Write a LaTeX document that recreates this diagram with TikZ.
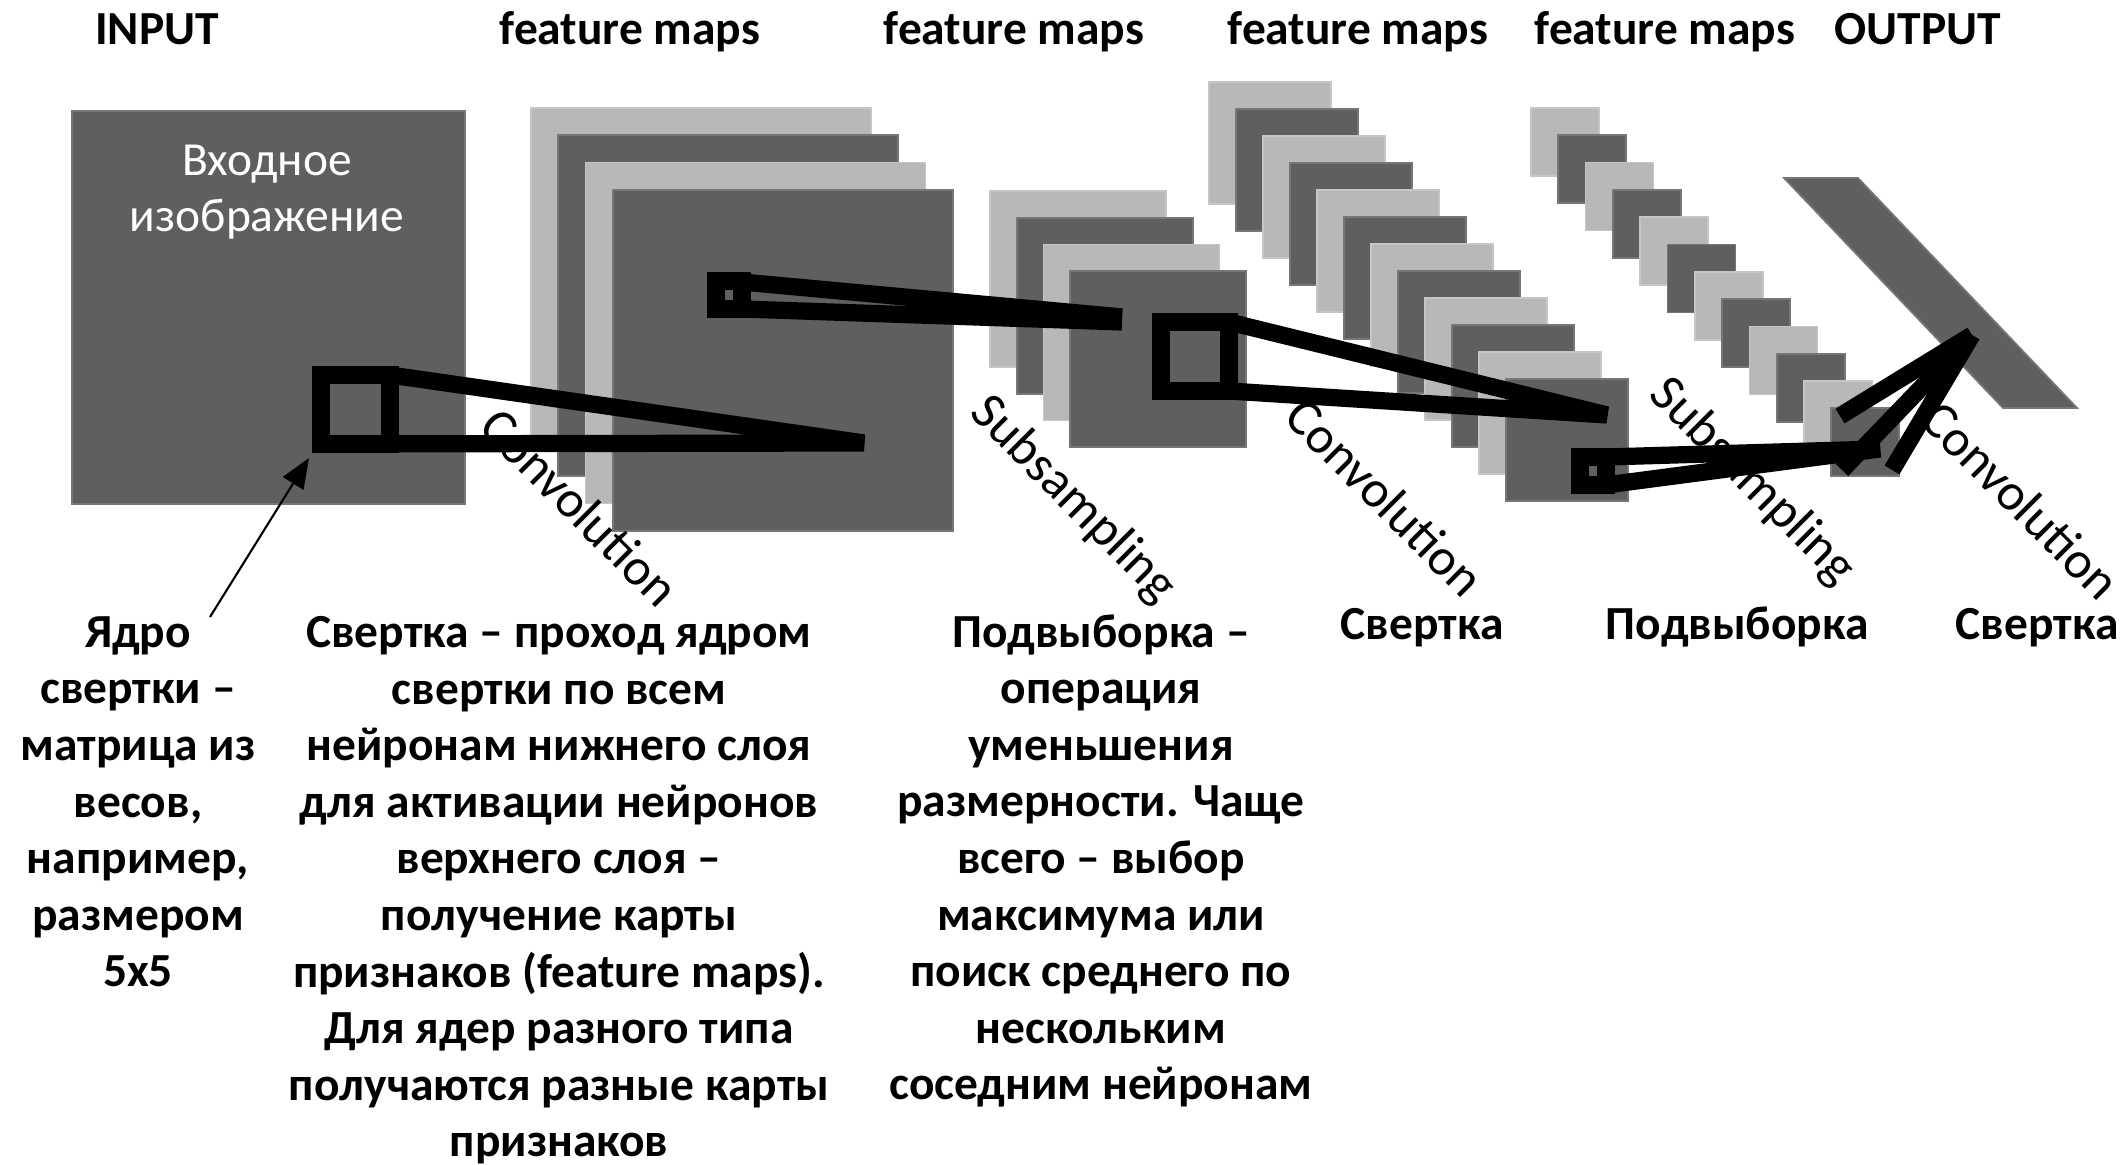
\documentclass[tikz,border=0pt]{standalone}
\usepackage{fontspec}
\setmainfont{Carlito}
\usetikzlibrary{arrows.meta}

\definecolor{dkgray}{RGB}{95,95,95}
\definecolor{ltgray}{RGB}{184,184,184}

\begin{document}
\begin{tikzpicture}[x=0.01cm, y=-0.01cm,
  dark/.style={fill=dkgray, draw=dkgray!85!white, line width=0.5pt},
  light/.style={fill=ltgray, draw=ltgray!80!white, line width=0.5pt},
  kernel/.style={draw=black, line width=4.9pt},
  title/.style={font=\bfseries\fontsize{13.5}{16.1}\selectfont, anchor=base, inner sep=0pt},
  note/.style={font=\bfseries\fontsize{13.5}{16.1}\selectfont, align=center, anchor=base, inner sep=0pt},
  oplabel/.style={font=\fontsize{14.8}{16.1}\selectfont, rotate=-45, inner sep=0pt}]

  \useasboundingbox[fill=white] (0,0) rectangle (2126,1165);

  \node[title] (input) at (157,45) {INPUT};
  \node[title] (maps1) at (630,45) {feature maps};
  \node[title] (maps2) at (1014,45) {feature maps};
  \node[title] (maps3) at (1358,45) {feature maps};
  \node[title] (maps4) at (1665,45) {feature maps};
  \node[title] (output) at (1918,45) {OUTPUT};

  % input image
  \path[dark] (72,111) rectangle (465,504);
  \node[font=\fontsize{13.5}{16.1}\selectfont, text=white, align=center,
    anchor=base, inner sep=0pt] (image) at (267,232) {Входное\\изображение};

  % stacks of feature maps
  \foreach \i in {0,2} {
    \path[light] ({531+27.3*\i},{108+27.3*\i}) rectangle +(340,341);
    \path[dark] ({531+27.3*(\i+1)},{108+27.3*(\i+1)}) rectangle +(340,341);
  }
  \foreach \i in {0,2} {
    \path[light] ({990+26.7*\i},{191+26.7*\i}) rectangle +(176,176);
    \path[dark] ({990+26.7*(\i+1)},{191+26.7*(\i+1)}) rectangle +(176,176);
  }
  \foreach \i in {0,2,...,10} {
    \path[light] ({1209+27*\i},{82+27*\i}) rectangle +(122,122);
    \path[dark] ({1209+27*(\i+1)},{82+27*(\i+1)}) rectangle +(122,122);
  }
  \foreach \i in {0,2,...,10} {
    \path[light] ({1531+27.3*\i},{108+27.3*\i}) rectangle +(68,68);
    \path[dark] ({1531+27.3*(\i+1)},{108+27.3*(\i+1)}) rectangle +(68,68);
  }
  \path[dark] (1784,178) -- (1858,178) -- (2077,408) -- (2003,408) -- cycle;

  % kernels and their cones
  \coordinate (apex1) at (864,443);
  \coordinate (apex2) at (1122,317);
  \coordinate (apex3) at (1607,415);
  \coordinate (apex4) at (1880,449);
  \coordinate (apex5) at (1972,335);
  \draw[kernel] (321,375) rectangle (390,444);
  \draw[kernel] (390,375) -- (apex1) -- (321,444);
  \draw[kernel] (716,281) rectangle (742,309);
  \draw[kernel] (742,282) -- (apex2);
  \draw[kernel] (742,309) -- (1122,322);
  \draw[kernel] (1161,322) rectangle (1229,391);
  \draw[kernel] (1229,322) -- (apex3) -- (1229,391);
  \draw[kernel] (1580,457) rectangle (1606,485);
  \draw[kernel] (1606,457) -- (apex4) -- (1606,485);
  \draw[kernel] (1840,416) -- (apex5);
  \draw[kernel] (1842,470) -- (apex5);
  \draw[kernel] (1892,470) -- (apex5);

  \node[oplabel] (conv1) at (580,507) {Convolution};
  \node[oplabel] (sub1) at (1073,500) {Subsampling};
  \node[oplabel] (conv2) at (1385,497) {Convolution};
  \node[oplabel] (sub2) at (1752,482) {Subsampling};
  \node[oplabel] (conv3) at (2021,500) {Convolution};

  % explanations
  \node[note] (kernnote) at (138,987) {Ядро\\свертки –\\матрица из\\весов,\\например,\\размером\\5x5};
  \node[note] (convnote) at (559,1157) {Свертка – проход ядром\\свертки по всем\\нейронам нижнего слоя\\для активации нейронов\\верхнего слоя –\\получение карты\\признаков (feature maps).\\Для ядер разного типа\\получаются разные карты\\признаков};
  \node[note] (subnote) at (1101,1100) {Подвыборка –\\операция\\уменьшения\\размерности. Чаще\\всего – выбор\\максимума или\\поиск среднего по\\нескольким\\соседним нейронам};
  \node[note] (convname2) at (1422,640) {Свертка};
  \node[note] (subname2) at (1737,640) {Подвыборка};
  \node[note] (convname3) at (2037,640) {Свертка};

  \coordinate (kerntip) at (309,458);
  \coordinate (kernfrom) at (210,617);
  \draw[-{Triangle[length=0.3cm, width=0.24cm]}, line width=0.6pt] (kernfrom) -- (kerntip);
\end{tikzpicture}
\end{document}
